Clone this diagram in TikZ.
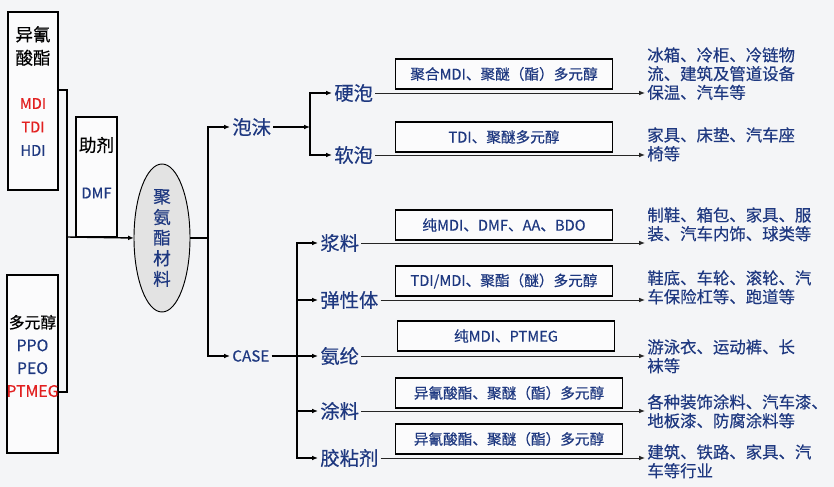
\documentclass[tikz,border=0pt]{standalone}
\usepackage{fontspec}
\setmainfont{Noto Sans CJK SC}[FakeBold = .4]
\usetikzlibrary{arrows.meta,shapes.geometric,shadows}
\definecolor{navy}{RGB}{30,56,128}
\definecolor{redtxt}{RGB}{226,32,32}
\definecolor{bgcol}{RGB}{244,245,247}

\begin{document}
\begin{tikzpicture}[
    x = .03cm, y = -.03cm,
    outer sep = 0mm, inner sep = 0mm,
    srcbox/.style = {
      rectangle, draw = black, line width = 1.1pt, fill = white!60!bgcol,
      drop shadow = {shadow xshift = .6pt, shadow yshift = -.6pt, opacity = .6},
    },
    hdr/.style = {align = center, font = \fontsize{15}{20}\selectfont},
    chem/.style = {align = center, text = navy, font = \fontsize{12.5}{20}\selectfont},
    pu/.style = {
      ellipse, draw = black, line width = .8pt, fill = gray!22,
      minimum width = 1.68cm, minimum height = 4.44cm,
      align = center, text = navy, font = \fontsize{15}{17.6}\selectfont,
    },
    lbl/.style = {anchor = west, inner sep = 2pt, text = navy, font = \fontsize{16.5}{18}\selectfont},
    midbox/.style = {
      rectangle, draw = black, line width = 1pt, fill = white!60!bgcol,
      minimum width = 6.51cm, minimum height = .9cm,
      text = navy, font = \fontsize{12.5}{14}\selectfont,
      drop shadow = {shadow xshift = .6pt, shadow yshift = -.6pt, opacity = .6},
    },
    use/.style = {
      anchor = north west, align = left, inner sep = 2pt,
      text = navy, font = \fontsize{14}{16}\selectfont,
    },
    ln/.style = {draw = black, line width = 1.2pt},
    arr/.style = {ln, -{Latex[length = 5pt, width = 4pt]}},
    thinarr/.style = {draw = black!85, line width = .8pt, -{Latex[length = 5pt, width = 4pt]}},
  ]

  \fill[bgcol] (0,0) rectangle (834,487);
  \useasboundingbox (0,0) rectangle (834,487);

  % raw materials
  \node[srcbox, minimum width = 1.5cm, minimum height = 5.34cm] (ISO) at (33,101) {};
  \node[hdr] (ISOa) at (33,46) {异氰\\酸酯};
  \node[chem] (ISOb) at (33,127) {\textcolor{redtxt}{MDI}\\\textcolor{redtxt}{TDI}\\HDI};

  \node[srcbox, minimum width = 1.53cm, minimum height = 5.34cm] (POL) at (32.5,364) {};
  \node[hdr, font = \fontsize{13.5}{19.5}\selectfont] (POLa) at (32.5,356)
    {多元醇\\\textcolor{navy}{PPO}\\\textcolor{navy}{PEO}\\\textcolor{redtxt}{PTMEG}};

  \node[srcbox, minimum width = 1.23cm, minimum height = 3.6cm] (AUX) at (96.5,177) {};
  \node[hdr] (AUXa) at (96.5,145) {助剂};
  \node[chem] (AUXb) at (96.5,193) {DMF};

  \node[pu] (PU) at (162,238) {聚\\氨\\酯\\材\\料};

  \coordinate (J) at (67,237);
  \draw[ln] (ISO.east) ++(0,-11) -| (J);
  \draw[ln] (POL.east) ++(0,28) -| (J);
  \draw[arr] (J) to (PU.west);

  % foam / CASE
  \node[lbl] (F) at (230,127) {泡沫};
  \node[lbl, font = \fontsize{13}{15}\selectfont] (C) at (230,356) {CASE};
  \coordinate (S) at (208,238);
  \draw[ln] (PU.east) to (S);
  \draw[arr] (S) |- (F.west);
  \draw[arr] (S) |- (C.west);

  \node[lbl] (HF) at (332,93) {硬泡};
  \node[lbl] (SF) at (332,155) {软泡};
  \coordinate (FS) at (310,127);
  \draw[arr] (F.east) to (FS);
  \draw[arr] (FS) |- (HF.west);
  \draw[arr] (FS) |- (SF.west);

  \node[lbl] (PA) at (318,243) {浆料};
  \node[lbl] (EL) at (318,300) {弹性体};
  \node[lbl] (SP) at (318,356) {氨纶};
  \node[lbl] (CT) at (318,411) {涂料};
  \node[lbl] (AD) at (318,458) {胶粘剂};
  \coordinate (CS) at (297,356);
  \draw[ln] (C.east) to (CS);
  \draw[arr] (CS) |- (PA.west);
  \draw[arr] (CS) |- (EL.west);
  \draw[arr] (CS) to (SP.west);
  \draw[arr] (CS) |- (CT.west);
  \draw[arr] (CS) |- (AD.west);

  % raw material boxes
  \node[midbox] (B1) at (504,74) {聚合MDI、聚醚（酯）多元醇};
  \node[midbox] (B2) at (504,137) {TDI、聚醚多元醇};
  \node[midbox] (B3) at (504,225) {纯MDI、DMF、AA、BDO};
  \node[midbox] (B4) at (504,281) {TDI/MDI、聚酯（醚）多元醇};
  \node[midbox] (B5) at (506,336) {纯MDI、PTMEG};
  \node[midbox, minimum width = 6.81cm] (B6) at (509,393) {异氰酸酯、聚醚（酯）多元醇};
  \node[midbox, minimum width = 6.81cm] (B7) at (509,439) {异氰酸酯、聚醚（酯）多元醇};

  % applications
  \node[use] (R1) at (645,45) {冰箱、冷柜、冷链物\\流、建筑及管道设备\\保温、汽车等};
  \node[use] (R2) at (645,125) {家具、床垫、汽车座\\椅等};
  \node[use] (R3) at (645,205) {制鞋、箱包、家具、服\\装、汽车内饰、球类等};
  \node[use] (R4) at (645,268) {鞋底、车轮、滚轮、汽\\车保险杠等、跑道等};
  \node[use] (R5) at (645,337) {游泳衣、运动裤、长\\袜等};
  \node[use] (R6) at (645,392) {各种装饰涂料、汽车漆、\\地板漆、防腐涂料等};
  \node[use] (R7) at (645,442) {建筑、铁路、家具、汽\\车等行业};

  \draw[thinarr] (HF.east) to (HF.east -| R1.west);
  \draw[thinarr] (SF.east) to (SF.east -| R2.west);
  \draw[thinarr] (PA.east) to (PA.east -| R3.west);
  \draw[thinarr] (EL.east) to (EL.east -| R4.west);
  \draw[thinarr] (SP.east) to (SP.east -| R5.west);
  \draw[thinarr] (CT.east) to (CT.east -| R6.west);
  \draw[thinarr] (AD.east) to (AD.east -| R7.west);
\end{tikzpicture}
\end{document}
